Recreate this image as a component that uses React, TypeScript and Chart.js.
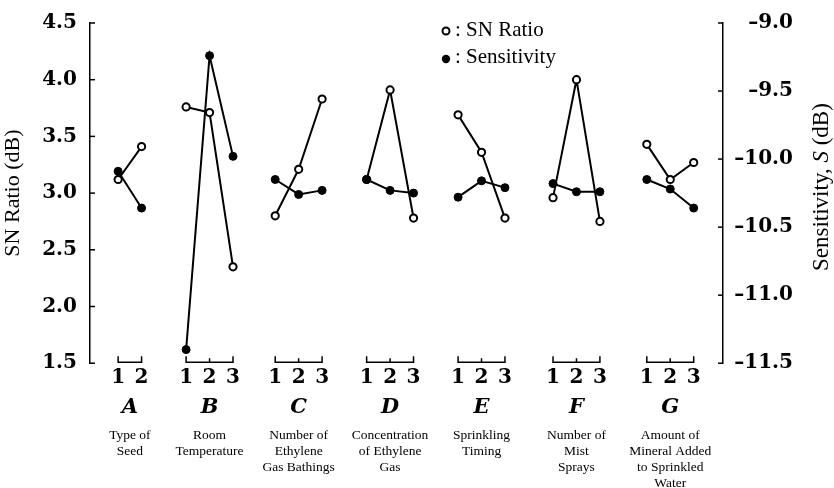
import React, { useEffect, useRef } from 'react';
import { Chart, registerables } from 'chart.js';

Chart.register(...registerables);

// ---- data ----
const factorLetters = ['A', 'B', 'C', 'D', 'E', 'F', 'G'];
const factorNames = [
  ['Type of', 'Seed'],
  ['Room', 'Temperature'],
  ['Number of', 'Ethylene', 'Gas Bathings'],
  ['Concentration', 'of Ethylene', 'Gas'],
  ['Sprinkling', 'Timing'],
  ['Number of', 'Mist', 'Sprays'],
  ['Amount of', 'Mineral Added', 'to Sprinkled', 'Water'],
];
// x position of each factor's group centre (in level units)
const factorCenters = [1.7, 5.1, 8.9, 12.8, 16.7, 20.75, 24.75];
const snRatio = [
  [3.12, 3.41],
  [3.76, 3.71, 2.35],
  [2.8, 3.21, 3.83],
  [3.12, 3.91, 2.78],
  [3.69, 3.36, 2.78],
  [2.96, 4.0, 2.75],
  [3.43, 3.12, 3.27],
];
const sensitivity = [
  [-10.09, -10.36],
  [-11.4, -9.24, -9.98],
  [-10.15, -10.26, -10.23],
  [-10.15, -10.23, -10.25],
  [-10.28, -10.16, -10.21],
  [-10.18, -10.24, -10.24],
  [-10.15, -10.22, -10.36],
];
const snAxis = { min: 1.5, max: 4.5, step: 0.5 };
const sensAxis = { min: -11.5, max: -9.0, step: 0.5 };
const xRange = { min: 0, max: 27 };

const levelX = (g: number, i: number, n: number) => factorCenters[g] + i - (n - 1) / 2;

const levelPositions: number[] = [];
const levelLabels: string[] = [];
snRatio.forEach((lv, g) =>
  lv.forEach((_, i) => {
    levelPositions.push(levelX(g, i, lv.length));
    levelLabels.push(String(i + 1));
  })
);

function buildSeries(values: number[][]) {
  const pts: { x: number; y: number | null }[] = [];
  values.forEach((lv, g) => {
    if (g > 0) pts.push({ x: factorCenters[g] - 2, y: null });
    lv.forEach((v, i) => pts.push({ x: levelX(g, i, lv.length), y: v }));
  });
  return pts;
}

const decorPlugin = {
  id: 'decor',
  afterDraw(chart: any) {
    const ctx = chart.ctx;
    const { x, y, y2 } = chart.scales;
    const area = chart.chartArea;
    ctx.save();
    ctx.strokeStyle = '#000';
    ctx.fillStyle = '#000';
    ctx.lineWidth = 1.5;
    // inward tick marks
    y.ticks.forEach((t: any) => {
      const py = y.getPixelForValue(t.value);
      ctx.beginPath();
      ctx.moveTo(y.right, py);
      ctx.lineTo(y.right + 5, py);
      ctx.stroke();
    });
    y2.ticks.forEach((t: any) => {
      const py = y2.getPixelForValue(t.value);
      ctx.beginPath();
      ctx.moveTo(y2.left, py);
      ctx.lineTo(y2.left - 5, py);
      ctx.stroke();
    });
    // level brackets under each factor
    const base = area.bottom - 1;
    snRatio.forEach((lv, g) => {
      const xs = lv.map((_, i) => x.getPixelForValue(levelX(g, i, lv.length)));
      const last = xs.length - 1;
      ctx.beginPath();
      ctx.moveTo(xs[0], base - 6);
      ctx.lineTo(xs[0], base);
      ctx.lineTo(xs[last], base);
      ctx.lineTo(xs[last], base - 6);
      for (let i = 1; i < last; i++) {
        ctx.moveTo(xs[i], base);
        ctx.lineTo(xs[i], base - 4);
      }
      ctx.stroke();
    });
    // right axis title (reads bottom to top)
    ctx.save();
    ctx.translate(822, (area.top + area.bottom) / 2 - 6);
    ctx.rotate(-Math.PI / 2);
    ctx.textBaseline = 'middle';
    const parts = [
      { t: 'Sensitivity, ', f: '23px "Liberation Serif"' },
      { t: 'S', f: 'italic 23px "Liberation Serif"' },
      { t: ' (dB)', f: '23px "Liberation Serif"' },
    ];
    let total = 0;
    parts.forEach((p) => {
      ctx.font = p.f;
      total += ctx.measureText(p.t).width;
    });
    let cx = -total / 2;
    parts.forEach((p) => {
      ctx.font = p.f;
      ctx.textAlign = 'left';
      ctx.fillText(p.t, cx, 0);
      cx += ctx.measureText(p.t).width;
    });
    ctx.restore();
    // legend
    ctx.lineWidth = 2;
    ctx.beginPath();
    ctx.arc(446, 31, 3.5, 0, Math.PI * 2);
    ctx.fillStyle = '#fff';
    ctx.fill();
    ctx.stroke();
    ctx.fillStyle = '#000';
    ctx.beginPath();
    ctx.arc(446, 59, 4.2, 0, Math.PI * 2);
    ctx.fill();
    ctx.font = '21px "Liberation Serif"';
    ctx.textAlign = 'left';
    ctx.textBaseline = 'middle';
    ctx.fillText(': SN Ratio', 455, 30);
    ctx.fillText(': Sensitivity', 455, 57);
    ctx.restore();
  },
};

const numFont = { family: '"DejaVu Serif"', weight: 'bold' as const, size: 20, lineHeight: 1 };
const noGrid = { display: false, drawTicks: false };

export default function App() {
  const ref = useRef<HTMLCanvasElement>(null);
  useEffect(() => {
    if (!ref.current) return;
    const chart = new Chart(ref.current, {
      type: 'line',
      data: {
        datasets: [
          {
            label: 'SN Ratio',
            data: buildSeries(snRatio) as any,
            xAxisID: 'x',
            yAxisID: 'y',
            borderColor: '#000',
            borderWidth: 2,
            pointRadius: 3.6,
            pointBorderWidth: 2,
            pointBackgroundColor: '#fff',
            pointBorderColor: '#000',
            spanGaps: false,
            tension: 0,
            order: 2,
          },
          {
            label: 'Sensitivity',
            data: buildSeries(sensitivity) as any,
            xAxisID: 'x',
            yAxisID: 'y2',
            borderColor: '#000',
            borderWidth: 2,
            pointRadius: 4,
            pointBorderWidth: 1,
            pointBackgroundColor: '#000',
            pointBorderColor: '#000',
            spanGaps: false,
            tension: 0,
            order: 1,
          },
        ],
      },
      options: {
        responsive: false,
        animation: false,
        devicePixelRatio: 1,
        layout: { padding: { top: 20, left: 0, right: 41, bottom: 0 } },
        plugins: { legend: { display: false }, tooltip: { enabled: false }, title: { display: false } },
        scales: {
          x: {
            type: 'linear',
            axis: 'x',
            position: 'bottom',
            weight: 1,
            min: xRange.min,
            max: xRange.max,
            afterBuildTicks: (s: any) => {
              s.ticks = levelPositions.map((v) => ({ value: v }));
            },
            ticks: {
              autoSkip: false,
              maxRotation: 0,
              minRotation: 0,
              padding: 5,
              color: '#000',
              font: numFont,
              callback: (_v: any, i: number) => levelLabels[i],
            },
            grid: noGrid,
            border: { display: false },
          },
          xf: {
            type: 'linear',
            axis: 'x',
            position: 'bottom',
            weight: 2,
            min: xRange.min,
            max: xRange.max,
            afterBuildTicks: (s: any) => {
              s.ticks = factorCenters.map((v) => ({ value: v }));
            },
            ticks: {
              autoSkip: false,
              maxRotation: 0,
              minRotation: 0,
              padding: 4,
              color: '#000',
              font: { family: '"DejaVu Serif"', weight: 'bold', style: 'italic', size: 21, lineHeight: 1 },
              callback: (_v: any, i: number) => factorLetters[i],
            },
            grid: noGrid,
            border: { display: false },
          },
          xn: {
            type: 'linear',
            axis: 'x',
            position: 'bottom',
            weight: 3,
            min: xRange.min,
            max: xRange.max,
            afterBuildTicks: (s: any) => {
              s.ticks = factorCenters.map((v) => ({ value: v }));
            },
            ticks: {
              autoSkip: false,
              maxRotation: 0,
              minRotation: 0,
              padding: 5,
              color: '#000',
              font: { family: '"Liberation Serif"', size: 13.5, lineHeight: 1.2 },
              callback: (_v: any, i: number) => factorNames[i],
            },
            grid: noGrid,
            border: { display: false },
          },
          y: {
            type: 'linear',
            position: 'left',
            min: snAxis.min,
            max: snAxis.max,
            afterFit: (s: any) => {
              s.width = 90;
            },
            ticks: {
              stepSize: snAxis.step,
              padding: 13,
              color: '#000',
              font: numFont,
              callback: (v: any) => Number(v).toFixed(1),
            },
            grid: { display: true, drawOnChartArea: false, drawTicks: false },
            border: { display: true, color: '#000', width: 1.5 },
            title: {
              display: true,
              text: 'SN Ratio (dB)',
              color: '#000',
              font: { family: '"Liberation Serif"', size: 22, lineHeight: 1 },
              padding: { top: 2, bottom: 0 },
            },
          },
          y2: {
            type: 'linear',
            position: 'right',
            min: sensAxis.min,
            max: sensAxis.max,
            afterFit: (s: any) => {
              s.width = 70;
            },
            ticks: {
              stepSize: sensAxis.step,
              padding: 11,
              crossAlign: 'far',
              color: '#000',
              font: numFont,
              callback: (v: any) => '\u2013' + Math.abs(Number(v)).toFixed(1),
            },
            grid: { display: true, drawOnChartArea: false, drawTicks: false },
            border: { display: true, color: '#000', width: 1.5 },
          },
        },
      } as any,
      plugins: [decorPlugin],
    });
    return () => chart.destroy();
  }, []);
  return (
    <div
      style={{
        position: 'fixed',
        left: 0,
        top: 0,
        width: 834,
        height: 488,
        overflow: 'hidden',
        background: '#fff',
      }}
    >
      <canvas ref={ref} width={834} height={497} style={{ display: 'block' }} />
    </div>
  );
}
